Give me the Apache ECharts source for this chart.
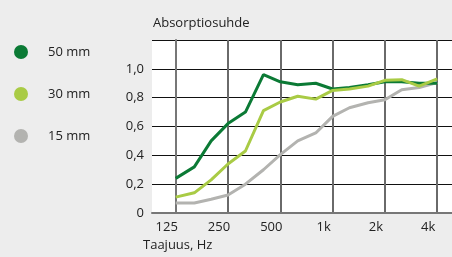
<!DOCTYPE html>
<html>
<head>
<meta charset="utf-8">
<script src="https://cdn.jsdelivr.net/npm/echarts@6/dist/echarts.min.js"></script>
<style>
html, body { margin: 0; padding: 0; background: #ededed; }
#chart { width: 452px; height: 257px; }
</style>
</head>
<body>
<div id="chart"></div>
<script>
// terssikaistat 125 Hz ... 4 kHz
var freqs = [125, 160, 200, 250, 315, 400, 500, 630, 800, 1000, 1250, 1600, 2000, 2500, 3150, 4000];
var mm50 = [0.24, 0.32, 0.50, 0.62, 0.70, 0.96, 0.91, 0.89, 0.90, 0.86, 0.87, 0.89, 0.91, 0.91, 0.90, 0.90];
var mm30 = [0.11, 0.14, 0.23, 0.34, 0.43, 0.71, 0.77, 0.81, 0.79, 0.85, 0.86, 0.88, 0.92, 0.925, 0.88, 0.93];
var mm15 = [0.07, 0.07, 0.095, 0.125, 0.20, 0.30, 0.405, 0.50, 0.555, 0.67, 0.73, 0.765, 0.785, 0.855, 0.87, 0.905];
var seriesNames = ['50 mm', '30 mm', '15 mm'];
var octaveTicks = [0, 1, 2, 3, 4, 5];
var tickLabels = ['125', '250', '500', '1k', '2k', '4k'];

var font = 'Open Sans';
var colors = ['#0b7a35', '#a9cb45', '#b3b3b0'];

// x = oktaavit 125 Hz:stä
function oct(f) { return Math.log2(f / 125); }
function pairs(vals) {
    return vals.map(function (v, i) { return [oct(freqs[i]), v]; });
}

var myChart = echarts.init(document.getElementById('chart'));
myChart.setOption({
    animation: false,
    textStyle: { fontFamily: font },
    color: colors,
    grid: { left: 152, right: 0, top: 40, bottom: 44, show: true, backgroundColor: '#fff', borderWidth: 0 },
    legend: {
        orient: 'vertical', left: 14, top: 45, padding: 0,
        icon: 'circle', itemWidth: 14, itemHeight: 14, itemGap: 28,
        textStyle: { fontSize: 13, color: '#222', fontFamily: font, padding: [0, 0, 0, 15] },
        data: seriesNames
    },
    xAxis: {
        type: 'value', min: -0.453, max: 5.283,
        axisLine: { show: true, lineStyle: { color: '#777', width: 2 } },
        axisTick: { show: false, customValues: octaveTicks },
        axisLabel: {
            customValues: octaveTicks, margin: 8, fontSize: 13, color: '#222',
            padding: [0, 18, 0, 0],
            formatter: function (v) { return tickLabels[Math.round(v)]; }
        },
        splitLine: { show: true, lineStyle: { color: '#6a6a6a', width: 2 } }
    },
    yAxis: {
        type: 'value', min: 0, max: 1.2, interval: 0.2,
        axisLine: { show: true, lineStyle: { color: '#777', width: 2 } },
        axisTick: { show: false },
        axisLabel: {
            margin: 8, fontSize: 13, color: '#222',
            formatter: function (v) {
                if (v > 1.1) return '';
                if (v === 0) return '0';
                return v.toFixed(1).replace('.', ',');
            }
        },
        splitLine: { show: true, lineStyle: { color: '#111', width: 1 } }
    },
    graphic: [{
        type: 'text', left: 153, top: 17,
        style: { text: 'Absorptiosuhde', fontSize: 13, fill: '#222', fontFamily: font }
    }, {
        type: 'text', left: 143, top: 239,
        style: { text: 'Taajuus, Hz', fontSize: 13, fill: '#222', fontFamily: font }
    }],
    series: [
        { name: seriesNames[0], type: 'line', symbol: 'none', z: 3, lineStyle: { width: 3 }, data: pairs(mm50) },
        { name: seriesNames[1], type: 'line', symbol: 'none', z: 4, lineStyle: { width: 3 }, data: pairs(mm30) },
        { name: seriesNames[2], type: 'line', symbol: 'none', z: 2, lineStyle: { width: 3 }, data: pairs(mm15) }
    ]
});
</script>
</body>
</html>
